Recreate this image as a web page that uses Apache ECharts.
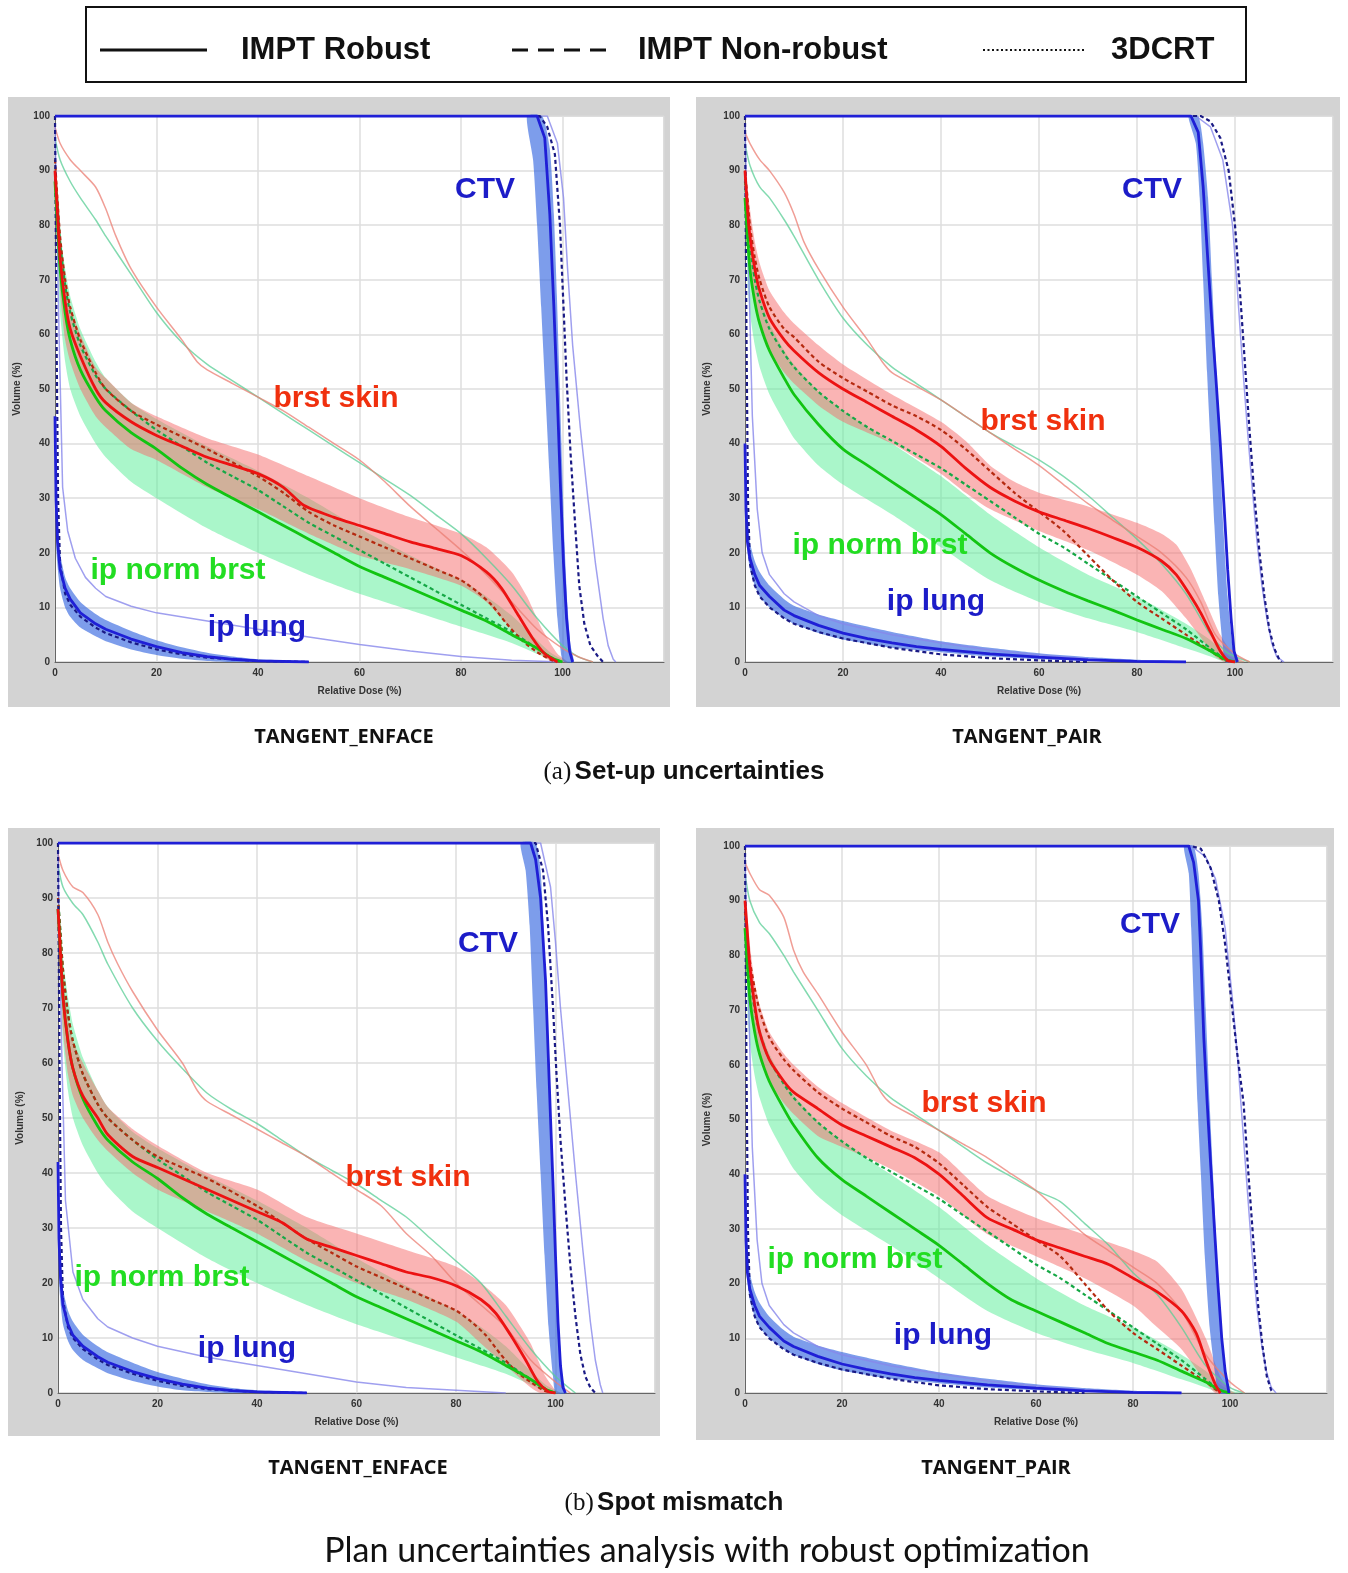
<!DOCTYPE html>
<html><head><meta charset="utf-8">
<script src="https://cdn.jsdelivr.net/npm/echarts@6/dist/echarts.min.js"></script>
<style>html,body{margin:0;padding:0;background:#fff}#c{width:1348px;height:1573px}</style>
</head><body><div id="c"></div>
<script>
// ===== Data: [relative dose %, volume %] =====
// ---- (a) TANGENT_ENFACE ----
const TL_CTV_R   = [[0,100],[95,100],[96.5,96],[97.5,82],[98.3,65],[99,48],[99.6,32],[100.2,18],[100.8,8],[101.4,2],[102,0]];
const TL_CTV_BLO = [[93,100],[94.2,92],[95,80],[95.8,65],[96.6,50],[97.4,35],[98.2,20],[99,8],[99.8,1],[100.3,0]];
const TL_CTV_BHI = [[96,100],[97.5,94],[98.3,82],[98.9,67],[99.4,52],[99.9,37],[100.4,22],[101,10],[101.6,3],[102.2,0]];
const TL_CTV_N   = [[0,100],[95.5,100],[97,98],[98.5,93],[99.5,80],[100.2,65],[100.8,52],[101.6,38],[102.5,25],[103.3,14],[104.3,7],[105.5,3],[107,1],[108,0]];
const TL_CTV_3D  = [[0,100],[97,100],[99,95],[100.2,85],[101,72],[102,58],[103.5,43],[105,30],[106.5,18],[108,8],[109,3],[110,0.5],[110.5,0]];
const TL_LUNG_R   = [[0,45],[0.2,30],[0.5,22],[1,17],[2,13.5],[3,11.5],[5,9],[8,7],[10,6],[15,4.2],[20,2.8],[25,1.7],[30,1],[35,0.5],[40,0.2],[50,0]];
const TL_LUNG_BLO = [[0.3,20],[1,13.5],[2,10],[3,8.3],[5,6.3],[8,4.7],[10,3.8],[15,2.3],[20,1.3],[25,0.6],[30,0.2],[35,0]];
const TL_LUNG_BHI = [[0.3,30],[1,20],[2,15.5],[3,13.5],[5,11],[8,8.8],[10,7.7],[15,5.7],[20,4],[25,2.7],[30,1.7],[35,1],[40,0.5],[50,0.1]];
const TL_LUNG_N   = [[0,100],[0.3,60],[0.6,30],[1,18],[2,12.5],[3,10.5],[5,8.3],[8,6.3],[10,5.3],[15,3.6],[20,2.3],[25,1.4],[30,0.8],[40,0.2],[50,0]];
const TL_LUNG_3D  = [[0,98],[0.8,60],[1.5,32],[2.5,24],[4,19],[6,15.5],[8,13.5],[10,12],[15,10.2],[20,9],[30,7.5],[40,6],[50,4.6],[60,3.2],[70,2],[80,1],[90,0.3],[100,0]];
const TL_SKIN_R   = [[0,90],[0.5,82],[1,74],[2,66],[3,61],[5,56],[8,50],[10,47.5],[15,44],[20,41.5],[25,39.5],[30,37.5],[35,36],[40,34.5],[45,32],[49,28.7],[55,26.5],[60,25],[65,23.5],[70,22],[75,20.8],[80,19.5],[85,16.5],[88,13.5],[91,9],[94,4.5],[96.5,1.5],[99,0]];
const TL_SKIN_BLO = [[0.5,80],[1,68],[2,59],[3,55],[5,50],[8,45],[10,43],[15,39],[20,37],[30,32],[40,28],[50,23.5],[60,19.5],[70,17],[80,14],[85,11],[90,6],[95,2],[97,0.5],[99,0]];
const TL_SKIN_BHI = [[0.5,86],[1,78],[2,70],[3,65],[5,60],[8,54],[10,52],[15,47.5],[20,45],[30,41],[40,38],[50,34],[60,30],[70,26.5],[80,23.5],[85,21],[90,16.5],[93,12],[96,6],[99,1.5],[101,0]];
const TL_SKIN_N   = [[0,92],[1,78],[2,70],[3,65],[5,59],[8,53],[10,50],[15,46],[20,43.5],[30,39],[40,34],[45,31],[50,27.5],[55,25],[60,23],[65,21],[70,19],[75,17],[80,15],[83,13],[86,10.5],[89,7],[92,4],[95,1.8],[98,0.3],[100,0]];
const TL_SKIN_3D  = [[0,98],[1,95],[3,92],[5,90],[8,87],[10,83],[12,78],[15,72],[20,65],[25,59],[28,55],[30,53.5],[35,51],[40,48.5],[45,46],[50,43],[55,40],[60,37],[65,33],[70,28.5],[75,24.5],[80,20.5],[85,16],[90,11],[95,6],[100,2.5],[103,1],[106,0]];
const TL_GRN_R    = [[0,88],[0.5,80],[1,72],[2,64],[3,59],[5,53.5],[8,48.5],[10,46],[15,42],[20,39],[25,35.5],[30,32.5],[35,30],[40,27.5],[45,25],[50,22.5],[55,20],[60,17.5],[65,15.5],[70,13.5],[75,11.5],[80,9.5],[85,7.5],[90,5],[95,2.5],[98,0.7],[100,0]];
const TL_GRN_BLO  = [[0.5,75],[1,64],[2,55],[3,50],[5,45],[8,40],[10,37.5],[15,33],[20,30],[30,24.5],[40,20],[50,16],[60,12.5],[70,9.5],[80,6.5],[90,3.5],[95,1.5],[98,0.3],[100,0]];
const TL_GRN_BHI  = [[0.5,86],[1,79],[2,72],[3,67],[5,61],[8,55],[10,52],[15,47.5],[20,44.5],[30,39.5],[40,35],[50,30],[60,24.5],[70,19.5],[80,15],[85,12],[90,8.5],[95,4],[98,1.5],[101,0]];
const TL_GRN_N    = [[0,90],[0.5,84],[1,77],[2,69],[3,64],[5,58],[8,52.5],[10,50],[15,46],[20,42.5],[25,39.5],[30,36.5],[35,34],[40,31.5],[45,28.5],[50,25.5],[55,23],[60,20.5],[65,18],[70,15.5],[75,13],[80,10.5],[85,8],[90,5.5],[95,2.5],[98,0.7],[100,0]];
const TL_GRN_3D   = [[0,96],[1,92],[3,88],[5,85],[8,81],[10,78],[15,71],[20,64],[25,58.5],[30,54.5],[35,51.5],[40,48.5],[45,45.5],[50,42.5],[55,39.5],[60,36.5],[65,33.5],[70,30.5],[75,27],[80,23.5],[85,19],[90,14],[95,8],[100,3],[103,1],[106,0]];

// ---- (a) TANGENT_PAIR ----
const TR_CTV_R   = [[0,100],[91,100],[92.5,97],[93.5,87],[94.5,73],[95.3,62],[96.1,52],[97,40],[97.8,28],[98.5,17],[99.2,8],[99.8,2],[100.5,0]];
const TR_CTV_BLO = [[90.5,100],[92,95],[92.8,85],[93.5,70],[94.3,53],[95,40],[95.8,25],[96.6,12],[97.5,3],[98,0]];
const TR_CTV_BHI = [[92.5,100],[93.5,95],[94.5,85],[95.3,70],[96.2,53],[96.8,40],[97.6,25],[98.5,12],[99.5,3],[100.3,0]];
const TR_CTV_N   = [[0,100],[93,100],[95,99],[97,96],[98.7,90],[100,80],[101,68],[102,55],[103,42],[104,30],[105,20],[106,12],[107,6],[108,2.5],[109,0.5],[109.5,0]];
const TR_CTV_3D  = [[0,100],[92,100],[95,98],[97.5,92],[99.5,80],[100.5,68],[101.5,55],[102.5,43],[103.5,32],[104.5,22],[105.5,14],[106.5,8],[107.5,3.5],[108.5,1],[110,0]];
const TR_LUNG_R   = [[0,40],[0.2,28],[0.5,22],[1,19],[2,16],[3,14],[5,12],[8,9.5],[10,8.5],[15,6.7],[20,5.3],[25,4.3],[30,3.5],[35,2.8],[40,2.3],[50,1.5],[60,0.9],[70,0.4],[80,0.1],[90,0]];
const TR_LUNG_BLO = [[0.3,22],[1,17],[2,14],[3,12],[5,10],[8,8],[10,7],[15,5.3],[20,4.1],[30,2.6],[40,1.8],[50,1],[60,0.5],[70,0.2],[80,0]];
const TR_LUNG_BHI = [[0.3,30],[1,22],[2,18.5],[3,16.5],[5,14],[8,11.5],[10,10.3],[15,8.7],[20,7.5],[30,5.5],[40,3.8],[50,2.6],[60,1.6],[70,0.9],[80,0.4],[90,0.1]];
const TR_LUNG_N   = [[0,100],[0.3,60],[0.6,30],[1,18],[2,14],[3,12],[5,10],[8,8],[10,7],[15,5.5],[20,4.3],[30,2.6],[40,1.4],[50,0.7],[60,0.3],[70,0]];
const TR_LUNG_3D  = [[0,98],[0.8,70],[1.5,45],[2.5,28],[3.5,20],[5,16],[8,12.5],[10,11],[15,8.5],[20,7],[30,5],[40,3.5],[50,2.2],[60,1.3],[70,0.6],[80,0.2],[90,0]];
const TR_SKIN_R   = [[0,90],[0.5,83],[1,78],[2,72],[3,68],[5,63],[8,59],[10,57],[15,53],[20,50],[25,47.5],[30,45],[35,42.5],[40,39.5],[45,35.5],[50,32],[55,29.5],[60,27.5],[65,26],[70,24.5],[75,22.8],[80,21],[85,18.5],[88,16],[91,12],[93,9],[95,5.5],[97,2],[98.5,0.3],[100,0]];
const TR_SKIN_BLO = [[0.5,78],[1,71],[2,66],[3,62],[5,57],[8,53],[10,51],[15,47],[20,44],[30,40],[40,34.5],[45,31],[50,28],[60,24],[70,20.5],[80,16],[85,13],[90,8],[93,4.5],[96,1],[98,0]];
const TR_SKIN_BHI = [[0.5,87],[1,83],[2,77],[3,73],[5,68],[8,64],[10,62],[15,58],[20,54.5],[30,49],[40,44],[45,40.5],[50,36],[55,33],[60,31],[70,28.5],[80,25.5],[85,23.5],[88,21.5],[91,17],[94,11],[97,5],[100,1],[102,0]];
const TR_SKIN_N   = [[0,90],[0.5,85],[1,80],[2,74],[3,70],[5,65],[8,61],[10,59.5],[15,55],[20,52],[25,49.5],[30,47],[35,45],[40,42.5],[45,39],[50,35],[55,31],[60,27.5],[65,24],[70,19.5],[75,15],[80,11],[85,8],[90,5],[95,2],[98,0.3],[100,0]];
const TR_SKIN_3D  = [[0,97],[1,95],[3,92],[5,90],[8,86],[10,82],[12,77],[15,72],[20,65],[25,59],[28,55],[30,53],[35,50.5],[40,48],[45,45],[50,42],[55,39],[60,36],[65,32.5],[70,29],[75,26],[80,23],[85,20],[90,15.5],[93,11],[96,5],[100,1.5],[103,0]];
const TR_GRN_R    = [[0,85],[0.5,78],[1,72],[2,66],[3,62],[5,57],[8,52],[10,49],[15,43.5],[20,39],[25,36],[30,33],[35,30],[40,27],[45,23.5],[50,20],[55,17.3],[60,15],[65,13],[70,11.2],[75,9.5],[80,7.7],[85,6],[90,4.3],[95,2],[98,0.5],[100,0]];
const TR_GRN_BLO  = [[0.5,70],[1,64],[2,58],[3,54],[5,49],[8,44],[10,41],[15,36],[20,32.5],[30,27],[40,21],[50,15],[60,11],[70,8],[80,5.5],[90,2.5],[95,1],[98,0]];
const TR_GRN_BHI  = [[0.5,82],[1,77],[2,71],[3,67],[5,62],[8,57],[10,54.5],[15,49.5],[20,46],[30,40],[40,34],[50,27],[60,21],[70,16],[80,12],[90,7],[95,4],[98,1.5],[100,0.5],[102,0]];
const TR_GRN_N    = [[0,88],[0.5,81],[1,76],[2,70],[3,66],[5,61],[8,56.5],[10,54],[15,49.5],[20,46],[25,43],[30,40.5],[35,38],[40,35.5],[45,32.5],[50,29.5],[55,26.5],[60,23.5],[65,21],[70,18],[75,15],[80,12],[85,9],[90,6],[95,2.5],[98,0.5],[100,0]];
const TR_GRN_3D   = [[0,95],[1,91],[3,87],[5,85],[8,81],[10,78],[15,70],[20,63],[25,58],[30,54],[35,51],[40,48],[45,45],[50,42],[55,39.5],[60,37],[65,34],[70,30.5],[75,26.5],[80,22.5],[85,18],[90,12.5],[95,5],[98,2],[100,1],[103,0]];

// ---- (b) TANGENT_ENFACE ----
const BL_CTV_R   = [[0,100],[95,100],[96,97],[97,90],[98,75],[98.6,60],[99,50],[99.5,38],[100,25],[100.5,13],[101,5],[101.5,1],[102,0]];
const BL_CTV_BLO = [[93,100],[94,95],[94.8,85],[95.5,70],[96.2,55],[97,40],[97.8,25],[98.6,12],[99.5,3],[100,0]];
const BL_CTV_BHI = [[96,100],[97,95],[97.6,85],[98.2,70],[98.8,55],[99.4,40],[100,25],[100.7,12],[101.4,3],[102,0]];
const BL_CTV_N   = [[0,100],[96,100],[97.5,95],[98.5,85],[99.5,70],[100.2,58],[101,46],[102,34],[103,23],[104,14],[105,7],[106,3],[107,1],[108,0]];
const BL_CTV_3D  = [[0,100],[97,100],[99,92],[100,82],[101,70],[102.5,55],[104,40],[105.5,26],[107,13],[108,6],[109,1.5],[109.5,0]];
const BL_LUNG_R   = [[0,42],[0.2,28],[0.5,21],[1,16],[2,12.5],[3,10.5],[5,8.5],[8,6.6],[10,5.6],[15,3.9],[20,2.6],[25,1.6],[30,0.9],[35,0.45],[40,0.2],[50,0]];
const BL_LUNG_BLO = [[0.3,19],[1,12.5],[2,9.5],[3,7.8],[5,6],[8,4.5],[10,3.6],[15,2.2],[20,1.2],[25,0.5],[30,0.2],[35,0]];
const BL_LUNG_BHI = [[0.3,29],[1,19],[2,15],[3,13],[5,10.6],[8,8.5],[10,7.4],[15,5.5],[20,3.8],[25,2.6],[30,1.6],[35,0.9],[40,0.5],[50,0.1]];
const BL_LUNG_N   = [[0,100],[0.3,60],[0.6,30],[1,17],[2,12],[3,10],[5,8],[8,6.1],[10,5.1],[15,3.5],[20,2.2],[25,1.3],[30,0.7],[40,0.2],[50,0]];
const BL_LUNG_3D  = [[0,98],[0.8,60],[1.5,35],[3,22],[5,17],[8,13.5],[10,12],[15,10],[20,8.5],[30,6.5],[40,5],[50,3.5],[60,2],[70,1],[80,0.5],[90,0]];
const BL_SKIN_R   = [[0,88],[0.5,80],[1,72],[2,64],[3,59],[5,54],[8,50],[10,47],[15,43],[20,41],[25,39],[30,37],[35,35],[40,33],[45,31],[50,28],[55,26.5],[60,25],[65,23.5],[70,22],[75,21],[80,19.5],[85,17],[88,14.5],[91,10.5],[94,6],[96.5,2],[98.5,0.3],[100,0]];
const BL_SKIN_BLO = [[0.5,78],[1,66],[2,58],[3,54],[5,50],[8,46],[10,44],[15,40],[20,37],[30,33],[40,29],[50,24],[60,20],[70,17],[80,13],[85,9],[90,5],[95,1],[97,0]];
const BL_SKIN_BHI = [[0.5,85],[1,76],[2,68],[3,64],[5,60],[8,55],[10,52],[15,48],[20,45],[30,40],[40,37],[50,32],[60,29],[70,26],[80,23],[85,20],[90,16],[93,12],[95,9],[98,3],[100,0.5],[101,0]];
const BL_SKIN_N   = [[0,90],[1,77],[2,69],[3,64],[5,58],[8,52.5],[10,50],[15,46],[20,43],[30,39],[40,34],[45,31],[50,28],[55,25.5],[60,23],[65,21],[70,19],[75,17],[80,15],[83,13],[86,10.5],[89,7],[92,4],[95,2],[98,0.3],[100,0]];
const BL_SKIN_3D  = [[0,98],[1,95],[3,92],[5,91],[8,87],[10,82],[12,78],[15,73],[20,66],[25,60],[28,55],[30,53],[35,50.5],[40,48],[45,45.5],[50,43],[55,40],[60,37],[65,34],[70,29],[75,25],[80,20],[85,16],[90,12],[95,6],[100,2],[103,0]];
const BL_GRN_R    = [[0,88],[0.5,80],[1,72],[2,64],[3,59],[5,53.5],[8,48.5],[10,46],[15,42],[20,39],[25,35.5],[30,32.5],[35,30],[40,27.5],[45,25],[50,22.5],[55,20],[60,17.5],[65,15.5],[70,13.5],[75,11.5],[80,9.5],[85,7.5],[90,5],[95,2.5],[98,0.7],[100,0]];
const BL_GRN_BLO  = [[0.5,75],[1,64],[2,55],[3,50],[5,45],[8,40],[10,37.5],[15,33],[20,30],[30,24.5],[40,20],[50,16],[60,12.5],[70,9.5],[80,6.5],[90,3.5],[95,1.5],[98,0.3],[100,0]];
const BL_GRN_BHI  = [[0.5,86],[1,79],[2,72],[3,67],[5,61],[8,55],[10,52],[15,47.5],[20,44.5],[30,39.5],[40,35],[50,30],[60,24.5],[70,19.5],[80,15],[85,12],[90,8.5],[95,4],[98,1.5],[101,0]];
const BL_GRN_N    = [[0,90],[0.5,84],[1,77],[2,69],[3,64],[5,58],[8,52.5],[10,50],[15,46],[20,42.5],[25,39.5],[30,36.5],[35,34],[40,31.5],[45,28.5],[50,25.5],[55,23],[60,20.5],[65,18],[70,15.5],[75,13],[80,10.5],[85,8],[90,5.5],[95,2.5],[98,0.7],[100,0]];
const BL_GRN_3D   = [[0,96],[1,92],[3,89],[5,87],[8,82],[10,78],[15,70],[20,64],[25,59],[30,54.5],[35,51.5],[40,49],[45,46],[50,43],[55,40.5],[60,38],[65,35],[70,32],[75,28],[80,24],[85,20],[90,14],[95,8],[100,3],[104,0]];

// ---- (b) TANGENT_PAIR ----
const BR_CTV_R   = [[0,100],[91.5,100],[92.5,97],[93.5,90],[94,80],[94.6,65],[95.3,53],[96,42],[96.8,30],[97.5,20],[98.3,10],[99,4],[99.8,0]];
const BR_CTV_BLO = [[90.5,100],[91.5,95],[92,85],[92.6,70],[93.3,53],[94,40],[94.8,25],[95.8,12],[97,3],[97.7,0]];
const BR_CTV_BHI = [[92.5,100],[93.5,95],[94.3,85],[95,70],[95.8,53],[96.5,40],[97.3,25],[98.2,12],[99.2,3],[100,0]];
const BR_CTV_N   = [[0,100],[92,100],[94,99.5],[96,96],[97.7,90],[99,82],[100.5,70],[101.5,62],[102.8,53],[103.8,40],[104.8,28],[105.8,16],[106.7,8.6],[107.6,3],[108.5,0.5],[109,0]];
const BR_CTV_3D  = [[0,100],[92,100],[95,98],[97,94],[99,85],[100.5,72],[101.5,62],[102.5,50],[103.5,38],[104.5,26],[105.5,16],[106.5,9],[107.5,4],[108.5,1],[109.5,0]];
const BR_LUNG_R   = [[0,40],[0.2,28],[0.5,22],[1,19],[2,16],[3,14],[5,12],[8,9.5],[10,8.5],[15,6.7],[20,5.3],[25,4.3],[30,3.5],[35,2.8],[40,2.3],[50,1.5],[60,0.9],[70,0.4],[80,0.1],[90,0]];
const BR_LUNG_BLO = [[0.3,22],[1,17],[2,14],[3,12],[5,10],[8,8],[10,7],[15,5.3],[20,4.1],[30,2.6],[40,1.8],[50,1],[60,0.5],[70,0.2],[80,0]];
const BR_LUNG_BHI = [[0.3,30],[1,22],[2,18.5],[3,16.5],[5,14],[8,11.5],[10,10.3],[15,8.7],[20,7.5],[30,5.5],[40,3.8],[50,2.6],[60,1.6],[70,0.9],[80,0.4],[90,0.1]];
const BR_LUNG_N   = [[0,100],[0.3,60],[0.6,30],[1,18],[2,14],[3,12],[5,10],[8,8],[10,7],[15,5.5],[20,4.3],[30,2.6],[40,1.4],[50,0.7],[60,0.3],[70,0]];
const BR_LUNG_3D  = [[0,98],[0.8,70],[1.5,45],[2.5,28],[3.5,20],[5,16],[8,12.5],[10,11],[15,8.5],[20,7],[30,5],[40,3.5],[50,2.2],[60,1.3],[70,0.6],[80,0.2],[90,0]];
const BR_SKIN_R   = [[0,90],[0.5,84],[1,78],[2,71],[3,66],[5,61],[8,57],[10,55],[15,52],[20,49],[25,47],[30,45],[35,43],[40,40],[45,36],[50,32],[55,30],[60,28],[65,26.5],[70,25],[75,23.5],[80,21],[85,18.5],[90,15],[93,11],[95,6],[97,1.5],[98,0]];
const BR_SKIN_BLO = [[0.5,78],[1,71],[2,66],[3,61],[5,57],[8,53],[10,51],[15,47],[20,45],[30,41],[40,36],[50,29],[60,25],[70,21],[80,16],[85,12],[90,8],[95,2],[97,0]];
const BR_SKIN_BHI = [[0.5,87],[1,82],[2,75],[3,71],[5,66],[8,62],[10,60],[15,56],[20,53],[30,48],[40,44],[50,36],[60,32],[70,29],[80,26],[85,24],[90,19],[95,10],[98,3],[100,0.5],[101,0]];
const BR_SKIN_N   = [[0,88],[0.5,83],[1,79],[2,74],[3,70],[5,65],[8,61],[10,59],[15,55],[20,52],[25,49.5],[30,47],[35,45],[40,42],[45,38],[50,34],[55,31],[60,28],[65,25],[70,20],[75,15],[80,11],[85,8],[90,5],[95,2],[98,0]];
const BR_SKIN_3D  = [[0,97],[1,95],[3,92],[5,91],[8,87],[10,81],[12,77],[15,73],[20,66],[25,60],[28,55],[30,53],[35,50.5],[40,48],[45,45.5],[50,43],[55,40],[60,37],[65,33],[70,29],[75,26],[80,23],[85,20],[90,15],[95,7],[100,2],[103,0]];
const BR_GRN_R    = [[0,85],[0.5,78],[1,72],[2,66],[3,62],[5,57],[8,52],[10,49],[15,43],[20,39],[25,36],[30,33],[35,30],[40,27],[45,23.5],[50,20],[55,17],[60,15],[65,13],[70,11],[75,9],[80,7.5],[85,6],[90,4],[95,2],[98,0.5],[100,0]];
const BR_GRN_BLO  = [[0.5,70],[1,64],[2,58],[3,54],[5,49],[8,44],[10,41],[15,36],[20,32.5],[30,27],[40,21],[50,15],[60,11],[70,8],[80,5.5],[90,2.5],[95,1],[98,0]];
const BR_GRN_BHI  = [[0.5,82],[1,77],[2,71],[3,67],[5,62],[8,57],[10,54.5],[15,49.5],[20,46],[30,40],[40,34],[50,27],[60,21],[70,16],[80,12],[90,7],[95,4],[98,1.5],[100,0.5],[102,0]];
const BR_GRN_N    = [[0,88],[0.5,81],[1,76],[2,70],[3,66],[5,61],[8,56.5],[10,54],[15,49.5],[20,46],[25,43],[30,40.5],[35,38],[40,35.5],[45,32.5],[50,29.5],[55,26.5],[60,23.5],[65,21],[70,18],[75,15],[80,12],[85,9],[90,6],[95,2.5],[98,0.5],[100,0]];
const BR_GRN_3D   = [[0,95],[1,90],[3,86],[5,84],[8,80],[10,77],[15,70],[20,63],[25,58],[30,54],[35,51],[40,48],[45,45],[50,42],[55,39.5],[60,37],[65,35],[70,31],[75,27],[80,22],[85,18],[90,12],[95,5],[100,1],[103,0]];

// Axis ticks and texts
const X_TICKS = [0, 20, 40, 60, 80, 100];
const LEGEND_LABELS = ['IMPT Robust', 'IMPT Non-robust', '3DCRT'];
const CAPTIONS = ['TANGENT_ENFACE', 'TANGENT_PAIR', 'TANGENT_ENFACE', 'TANGENT_PAIR'];
const STRUCT_LABELS = ['CTV', 'brst skin', 'ip norm brst', 'ip lung'];

// ===== Layout / style =====
const PANELS = [
  {grid:{left:55,top:116,width:609,height:546}, frame:[8,97,662,610],
   sets:{grn:[TL_GRN_R,TL_GRN_N,TL_GRN_3D,TL_GRN_BLO,TL_GRN_BHI], skin:[TL_SKIN_R,TL_SKIN_N,TL_SKIN_3D,TL_SKIN_BLO,TL_SKIN_BHI], lung:[TL_LUNG_R,TL_LUNG_N,TL_LUNG_3D,TL_LUNG_BLO,TL_LUNG_BHI], ctv:[TL_CTV_R,TL_CTV_N,TL_CTV_3D,TL_CTV_BLO,TL_CTV_BHI]},
   labelPos:[[485,190],[336,399],[178,571],[257,628]], caption:[344,737]},
  {grid:{left:745,top:116,width:588,height:546}, frame:[696,97,644,610],
   sets:{grn:[TR_GRN_R,TR_GRN_N,TR_GRN_3D,TR_GRN_BLO,TR_GRN_BHI], skin:[TR_SKIN_R,TR_SKIN_N,TR_SKIN_3D,TR_SKIN_BLO,TR_SKIN_BHI], lung:[TR_LUNG_R,TR_LUNG_N,TR_LUNG_3D,TR_LUNG_BLO,TR_LUNG_BHI], ctv:[TR_CTV_R,TR_CTV_N,TR_CTV_3D,TR_CTV_BLO,TR_CTV_BHI]},
   labelPos:[[1152,190],[1043,422],[880,546],[936,602]], caption:[1027,737]},
  {grid:{left:58,top:843,width:597,height:550}, frame:[8,828,652,608],
   sets:{grn:[BL_GRN_R,BL_GRN_N,BL_GRN_3D,BL_GRN_BLO,BL_GRN_BHI], skin:[BL_SKIN_R,BL_SKIN_N,BL_SKIN_3D,BL_SKIN_BLO,BL_SKIN_BHI], lung:[BL_LUNG_R,BL_LUNG_N,BL_LUNG_3D,BL_LUNG_BLO,BL_LUNG_BHI], ctv:[BL_CTV_R,BL_CTV_N,BL_CTV_3D,BL_CTV_BLO,BL_CTV_BHI]},
   labelPos:[[488,944],[408,1178],[162,1278],[247,1349]], caption:[358,1468]},
  {grid:{left:745,top:846,width:582,height:547}, frame:[696,828,638,612],
   sets:{grn:[BR_GRN_R,BR_GRN_N,BR_GRN_3D,BR_GRN_BLO,BR_GRN_BHI], skin:[BR_SKIN_R,BR_SKIN_N,BR_SKIN_3D,BR_SKIN_BLO,BR_SKIN_BHI], lung:[BR_LUNG_R,BR_LUNG_N,BR_LUNG_3D,BR_LUNG_BLO,BR_LUNG_BHI], ctv:[BR_CTV_R,BR_CTV_N,BR_CTV_3D,BR_CTV_BLO,BR_CTV_BHI]},
   labelPos:[[1150,925],[984,1104],[855,1260],[943,1336]], caption:[996,1468]}
];
const STYLE = {
  grn:  {band:'rgba(85,238,150,0.5)',  solid:'#12c412', dash:'#16a846', thin:'rgba(90,205,150,0.75)', smooth:0.25},
  skin: {band:'rgba(245,105,105,0.5)', solid:'#ec1212', dash:'#b52a10', thin:'rgba(235,125,115,0.75)', smooth:0.25},
  lung: {band:'rgba(55,105,225,0.65)', solid:'#1f1fd6', dash:'#1a1a85', thin:'rgba(135,135,235,0.8)', smooth:false},
  ctv:  {band:'rgba(55,105,225,0.65)', solid:'#1f1fd6', dash:'#1a1a85', thin:'rgba(135,135,235,0.8)', smooth:false}
};
const LABEL_COLORS = ['#1c1cc8', '#f0300e', '#22dd22', '#1c1cc8'];
const ORDER = ['grn','skin','lung','ctv'];

const grids=[], xAxes=[], yAxes=[], series=[], graphics=[];
PANELS.forEach((p, gi) => {
  grids.push(Object.assign({show:true, backgroundColor:'#fff', borderColor:'#b5b5b5', borderWidth:1}, p.grid));
  xAxes.push({type:'value', gridIndex:gi, min:0, max:120, interval:20,
    name:'Relative Dose (%)', nameLocation:'middle', nameGap:24,
    nameTextStyle:{fontSize:10, fontWeight:'bold', color:'#333', fontFamily:'Liberation Sans'},
    axisLine:{show:true, lineStyle:{color:'#666'}}, axisTick:{show:false},
    axisLabel:{fontSize:10, fontWeight:'bold', color:'#333', fontFamily:'Liberation Sans', margin:6,
      formatter:v => X_TICKS.indexOf(v) >= 0 ? String(v) : ''},
    splitLine:{show:true, lineStyle:{color:'#dedede', width:1.5}}});
  yAxes.push({type:'value', gridIndex:gi, min:0, max:100, interval:10,
    name:'Volume (%)', nameLocation:'middle', nameGap:33, nameRotate:90,
    nameTextStyle:{fontSize:10, fontWeight:'bold', color:'#333', fontFamily:'Liberation Sans'},
    axisLine:{show:true, lineStyle:{color:'#666'}}, axisTick:{show:false},
    axisLabel:{fontSize:10, fontWeight:'bold', color:'#333', fontFamily:'Liberation Sans', margin:5},
    splitLine:{show:true, lineStyle:{color:'#dedede', width:1.5}}});
  // bands
  ORDER.forEach(k => {
    const s = p.sets[k], st = STYLE[k];
    const poly = s[3].concat(s[4].slice().reverse());
    series.push({type:'custom', xAxisIndex:gi, yAxisIndex:gi, data:[[0,0]], silent:true, z:2,
      renderItem:(params, api) => ({type:'polygon', shape:{points: poly.map(pt => api.coord(pt)), smooth:0.2},
        style:{fill:st.band}})});
  });
  const line = (data, color, width, type, smooth, z) => ({type:'line', xAxisIndex:gi, yAxisIndex:gi, data,
    showSymbol:false, symbol:'none', smooth, silent:true, z, lineStyle:{color, width, type}});
  ORDER.forEach(k => { const st=STYLE[k]; series.push(line(p.sets[k][2], st.thin, 1.5, 'solid', st.smooth, 3)); });
  ORDER.forEach(k => { const st=STYLE[k]; series.push(line(p.sets[k][1], st.dash, 2.2, [4,3], st.smooth, 4)); });
  ORDER.forEach(k => { const st=STYLE[k]; series.push(line(p.sets[k][0], st.solid, 2.8, 'solid', st.smooth, 5)); });

  // frame
  graphics.push({type:'rect', z:-100, silent:true, shape:{x:p.frame[0], y:p.frame[1], width:p.frame[2], height:p.frame[3]}, style:{fill:'#d3d3d3'}});
  // structure labels
  STRUCT_LABELS.forEach((t, li) => graphics.push({type:'text', z:100, silent:true, x:p.labelPos[li][0], y:p.labelPos[li][1],
    style:{text:t, fill:LABEL_COLORS[li], font:'bold 30px "Liberation Sans", Arial', textAlign:'center', textVerticalAlign:'middle'}}));
  graphics.push({type:'text', z:100, silent:true, x:p.caption[0], y:p.caption[1],
    style:{text:CAPTIONS[gi], fill:'#111', font:'bold 20px "Open Sans", sans-serif', textAlign:'center', textVerticalAlign:'middle'}});
});

// legend box
graphics.push({type:'rect', z:100, silent:true, shape:{x:86, y:7, width:1160, height:75}, style:{fill:'#fff', stroke:'#111', lineWidth:2}});
graphics.push({type:'line', z:101, silent:true, shape:{x1:100, y1:50, x2:207, y2:50}, style:{stroke:'#111', lineWidth:3}});
graphics.push({type:'line', z:101, silent:true, shape:{x1:512, y1:50, x2:608, y2:50}, style:{stroke:'#111', lineWidth:3, lineDash:[16,10]}});
graphics.push({type:'line', z:101, silent:true, shape:{x1:983, y1:50, x2:1085, y2:50}, style:{stroke:'#111', lineWidth:2, lineDash:[2,2.5]}});
[[241,LEGEND_LABELS[0]],[638,LEGEND_LABELS[1]],[1111,LEGEND_LABELS[2]]].forEach(([x,t]) =>
  graphics.push({type:'text', z:101, silent:true, x, y:50, style:{text:t, fill:'#111', font:'bold 31px "Liberation Sans", Arial', textAlign:'left', textVerticalAlign:'middle'}}));

// sub-captions
graphics.push({type:'text', z:100, silent:true, x:684, y:772, style:{text:'{a|(a)} {b|Set-up uncertainties}', textAlign:'center', textVerticalAlign:'middle',
  rich:{a:{fontFamily:'Liberation Serif', fontSize:25, fill:'#111'}, b:{fontFamily:'Liberation Sans', fontWeight:'bold', fontSize:26, fill:'#111'}}}});
graphics.push({type:'text', z:100, silent:true, x:674, y:1503, style:{text:'{a|(b)} {b|Spot mismatch}', textAlign:'center', textVerticalAlign:'middle',
  rich:{a:{fontFamily:'Liberation Serif', fontSize:25, fill:'#111'}, b:{fontFamily:'Liberation Sans', fontWeight:'bold', fontSize:26, fill:'#111'}}}});
graphics.push({type:'text', z:100, silent:true, x:707, y:1551, style:{text:'Plan uncertainties analysis with robust optimization', fill:'#111',
  font:'34px Lato, "Open Sans", sans-serif', textAlign:'center', textVerticalAlign:'middle'}});

const chart = echarts.init(document.getElementById('c'), null, {renderer:'canvas'});
chart.setOption({animation:false, backgroundColor:'#fff', grid:grids, xAxis:xAxes, yAxis:yAxes, series, graphic:graphics});
</script></body></html>
